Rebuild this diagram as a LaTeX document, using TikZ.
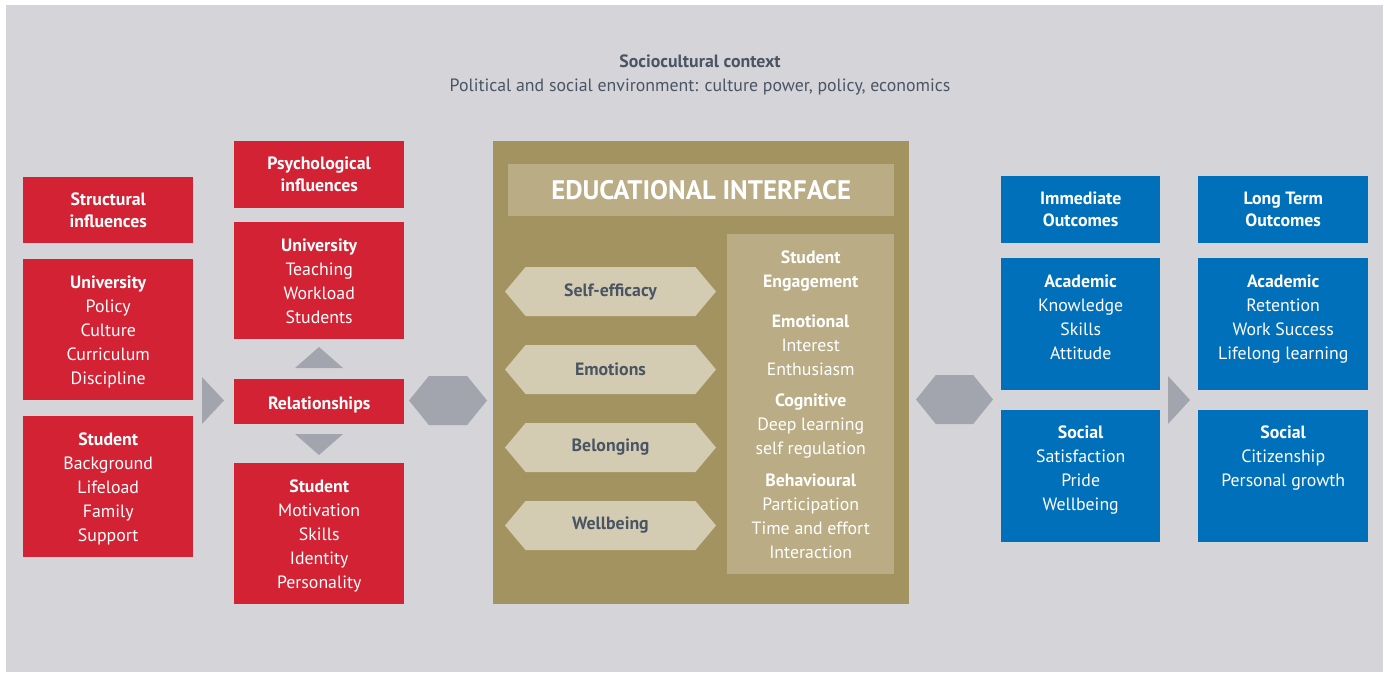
\documentclass[tikz,border=0pt]{standalone}
\usepackage{fontspec}
\setmainfont{PT Sans}
\usepackage{tikz}
\usetikzlibrary{positioning,shapes.symbols}
\definecolor{bggray}{HTML}{D5D4D9}
\definecolor{darkred}{HTML}{D32234}
\definecolor{darkblue}{HTML}{0070BA}
\definecolor{gold}{HTML}{A39360}
\definecolor{lightgold}{HTML}{BAAC84}
\definecolor{paletag}{HTML}{D3CCB3}
\definecolor{arrowgray}{HTML}{A3A5AE}
\definecolor{slate}{HTML}{4A5563}

\begin{document}
\begin{tikzpicture}[x=1pt,y=-1pt,
  every node/.style={font=\fontsize{17.8}{24}\selectfont,align=center,inner sep=0pt},
  redbox/.style={fill=darkred,text=white,minimum width=170pt,anchor=north west},
  bluebox/.style={fill=darkblue,text=white,minimum width=159pt,anchor=north west},
  boxtext/.style={text=white,anchor=north},
  tagbox/.style={signal,signal to=west and east,signal pointer angle=100,fill=paletag,
    text=slate,font=\fontsize{17.8}{24}\selectfont\bfseries,minimum width=211pt,minimum height=49pt},
  hexarrow/.style={signal,signal to=west and east,signal pointer angle=102,fill=arrowgray,
    minimum width=78pt,minimum height=49pt}]
  \useasboundingbox (0,0) rectangle (1389,672);
  \fill[white] (0,0) rectangle (1389,672);
  \fill[bggray] (6,5) rectangle (1383,672);

  % Top: sociocultural context
  \node[text=slate,font=\fontsize{17.8}{24}\selectfont\bfseries,anchor=base] (ctx) at (700,67) {Sociocultural context};
  \node[text=slate,anchor=base] (ctxsub) at (700,91) {Political and social environment: culture power, policy, economics};

  % Left: structural influences
  \node[redbox,minimum height=66pt,font=\fontsize{17.8}{22}\selectfont\bfseries] (struct) at (23,177) {Structural\\influences};
  \node[redbox,minimum height=141pt] (univL) at (23,259) {};
  \node[boxtext,below=17pt of univL.north] (univLtxt) {\textbf{University}\\Policy\\Culture\\Curriculum\\Discipline};
  \node[redbox,minimum height=141pt] (studL) at (23,416) {};
  \node[boxtext,below=17pt of studL.north] (studLtxt) {\textbf{Student}\\Background\\Lifeload\\Family\\Support};

  % Middle: psychological influences
  \node[redbox,minimum height=67pt,font=\fontsize{17.8}{22}\selectfont\bfseries] (psych) at (234,141) {Psychological\\influences};
  \node[redbox,minimum height=117pt] (univM) at (234,222) {};
  \node[boxtext,below=17pt of univM.north] (univMtxt) {\textbf{University}\\Teaching\\Workload\\Students};
  \node[redbox,minimum height=45pt,text height=15pt,text depth=0pt,font=\fontsize{17.8}{24}\selectfont\bfseries] (reln) at (234,379) {Relationships};
  \node[redbox,minimum height=141pt] (studM) at (234,463) {};
  \node[boxtext,below=17pt of studM.north] (studMtxt) {\textbf{Student}\\Motivation\\Skills\\Identity\\Personality};

  % Arrows round relationships
  \fill[arrowgray] (202,377) -- (224,400.5) -- (202,424) -- cycle;
  \fill[arrowgray] (295,368) -- (319,347) -- (343,368) -- cycle;
  \fill[arrowgray] (295,434) -- (343,434) -- (319,455) -- cycle;
  \node[hexarrow] (hexL) at (448,400.5) {};

  % Center: educational interface
  \fill[gold] (493,141) rectangle (909,604);
  \node[fill=lightgold,minimum width=386pt,minimum height=52pt,anchor=north west,
    text=white,font=\fontsize{26.8}{30}\selectfont\bfseries] (edutitle) at (508,164) {EDUCATIONAL INTERFACE};
  \node[tagbox] (selfeff) at (610.5,291.5) {Self-efficacy};
  \node[tagbox] (emot) at (610.5,369.5) {Emotions};
  \node[tagbox] (belong) at (610.5,447.5) {Belonging};
  \node[tagbox] (wellb) at (610.5,525.5) {Wellbeing};
  \node[fill=lightgold,minimum width=167pt,minimum height=340pt,anchor=north west] (engage) at (727,234) {};
  \node[boxtext,below=17pt of engage.north] (engagetxt) {\textbf{Student}\\\textbf{Engagement}\\[16pt]
    \textbf{Emotional}\\Interest\\Enthusiasm\\[7pt]
    \textbf{Cognitive}\\Deep learning\\self regulation\\[8pt]
    \textbf{Behavioural}\\Participation\\Time and effort\\Interaction};

  % Right: outcomes
  \node[hexarrow,minimum width=77pt] (hexR) at (954.5,399.5) {};
  \node[bluebox,minimum height=67pt,font=\fontsize{17.8}{22}\selectfont\bfseries] (immed) at (1001,176) {Immediate\\Outcomes};
  \node[bluebox,minimum height=132pt] (acadI) at (1001,258) {};
  \node[boxtext,below=17pt of acadI.north] (acadItxt) {\textbf{Academic}\\Knowledge\\Skills\\Attitude};
  \node[bluebox,minimum height=132pt] (socI) at (1001,410) {};
  \node[boxtext,below=16pt of socI.north] (socItxt) {\textbf{Social}\\Satisfaction\\Pride\\Wellbeing};
  \fill[arrowgray] (1168,376) -- (1190,400) -- (1168,424) -- cycle;
  \node[bluebox,minimum width=170pt,minimum height=67pt,font=\fontsize{17.8}{22}\selectfont\bfseries] (longt) at (1198,176) {Long Term\\Outcomes};
  \node[bluebox,minimum width=170pt,minimum height=132pt] (acadL) at (1198,258) {};
  \node[boxtext,below=17pt of acadL.north] (acadLtxt) {\textbf{Academic}\\Retention\\Work Success\\Lifelong learning};
  \node[bluebox,minimum width=170pt,minimum height=132pt] (socL) at (1198,410) {};
  \node[boxtext,below=16pt of socL.north] (socLtxt) {\textbf{Social}\\Citizenship\\Personal growth};
\end{tikzpicture}
\end{document}
